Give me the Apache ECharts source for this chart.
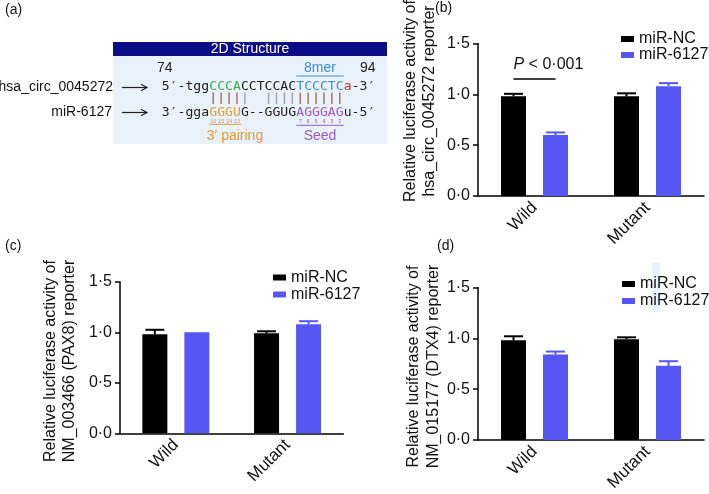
<!DOCTYPE html>
<html><head><meta charset="utf-8">
<script src="https://cdn.jsdelivr.net/npm/echarts@6/dist/echarts.min.js"></script>
<style>html,body{margin:0;padding:0;background:#fff}#c{width:709px;height:494px}</style>
</head><body><div id="c"></div>
<script>
// ---------- data ----------
const categories = ['Wild', 'Mutant'];
const seriesNames = ['miR-NC', 'miR-6127'];
const yTickLabels = ['0·0', '0·5', '1·0', '1·5'];
// panel (b) hsa_circ_0045272
const bNC = [0.98, 0.98];
const bNCerr = [0.025, 0.03];
const b6127 = [0.60, 1.08];
const b6127err = [0.025, 0.03];
// panel (c) NM_003466 (PAX8)
const cNC = [0.98, 0.99];
const cNCerr = [0.045, 0.02];
const c6127 = [1.00, 1.08];
const c6127err = [0, 0.03];
// panel (d) NM_015177 (DTX4)
const dNC = [0.98, 0.99];
const dNCerr = [0.04, 0.02];
const d6127 = [0.84, 0.73];
const d6127err = [0.03, 0.045];
// panel (a) sequences
const row1 = [['5′-tgg', '#222'], ['CCCA', '#3fae4a'], ['CCTCCAC', '#222'], ['TCCCTC', '#3b8fd6'], ['a', '#e02828'], ['-3′', '#222']];
const row2 = [['3′-gga', '#222'], ['GGGU', '#e39a36'], ['G--GGUG', '#222'], ['AGGGAG', '#9a5cc6'], ['u-5′', '#222']];
const pairBrown = [4, 5, 6, 7, 15, 16, 17, 18, 19, 20];
const pairGray = [8, 11, 12, 13, 14];
const orangeNums = ['16', '15', '14', '13'];
const purpleNums = ['7', '6', '5', '4', '3', '2'];

// ---------- styling ----------
const FONT = "'Liberation Sans', Arial, Helvetica, sans-serif";
const BLACK = '#000000';
const BLUE = '#5656f2';
const BARW = 25, OFF = 21;

const chart = echarts.init(document.getElementById('c'), null, {renderer: 'canvas'});

const grids = [
  {left: 478, top: 43.5, width: 226, height: 152.5},
  {left: 120, top: 281.8, width: 223.4, height: 151.5},
  {left: 478, top: 287.5, width: 226, height: 152.5}
];

function xAx(i) {
  return {
    type: 'category', gridIndex: i, data: categories,
    axisLine: {lineStyle: {color: '#000', width: 1.5}},
    axisTick: {alignWithLabel: true, length: 5, lineStyle: {color: '#000', width: 1.5}},
    axisLabel: {rotate: 45, margin: 9, fontSize: 17, color: '#111', fontFamily: FONT},
    splitLine: {show: false}
  };
}
function yAx(i) {
  return {
    type: 'value', gridIndex: i, min: 0, max: 1.5, interval: 0.5,
    axisLine: {show: true, lineStyle: {color: '#000', width: 1.5}},
    axisTick: {show: true, length: 5, lineStyle: {color: '#000', width: 1.5}},
    axisLabel: {margin: 8, fontSize: 16, color: '#111', fontFamily: FONT,
      formatter: v => yTickLabels[Math.round(v / 0.5)]},
    splitLine: {show: false}
  };
}
function barS(i, name, vals, color) {
  return {type: 'bar', name: name, xAxisIndex: i, yAxisIndex: i, data: vals,
    barWidth: BARW, barGap: '68%', itemStyle: {color: color}, silent: true};
}
function errS(i, vals, errs, offset, color) {
  return {
    type: 'custom', xAxisIndex: i, yAxisIndex: i, z: 5, silent: true,
    data: vals.map((v, k) => [k, v, errs[k]]),
    encode: {x: 0, y: 1},
    renderItem: (params, api) => {
      const e = api.value(2);
      if (!e) return null;
      const base = api.coord([api.value(0), api.value(1)]);
      const top = api.coord([api.value(0), api.value(1) + e]);
      const x = base[0] + offset;
      return {type: 'group', children: [
        {type: 'line', shape: {x1: x, y1: base[1], x2: x, y2: top[1]}, style: {stroke: color, lineWidth: 2}},
        {type: 'line', shape: {x1: x - 9.5, y1: top[1], x2: x + 9.5, y2: top[1]}, style: {stroke: color, lineWidth: 2}}
      ]};
    }
  };
}
function legendAt(left, top, gap) {
  return {data: seriesNames, left: left, top: top, orient: 'vertical', icon: 'rect',
    itemWidth: 13, itemHeight: 6, itemGap: gap, selectedMode: false,
    textStyle: {fontSize: 16, color: '#111', fontFamily: FONT, lineHeight: 16, padding: 0}};
}

// ---------- panel (a) graphics ----------
const g = [];
const x0 = 161.8, cw = 7.91;
function txt(x, y, s, size, color, align, extra) {
  return Object.assign({type: 'text', x: x, y: y, silent: true,
    style: {text: s, fontSize: size, fill: color, fontFamily: FONT, textAlign: align || 'left', textVerticalAlign: 'middle'}}, extra || {});
}
g.push({type: 'rect', shape: {x: 113, y: 56, width: 274, height: 88}, style: {fill: '#e9f1fa'}, silent: true, z: 0});
g.push({type: 'rect', shape: {x: 113, y: 42, width: 274, height: 14}, style: {fill: '#0c0c86'}, silent: true, z: 1});
g.push(txt(250, 49.5, '2D Structure', 14, '#ffffff', 'center', {z: 2}));
function seqRow(segs, y) {
  let idx = 0;
  segs.forEach(([s, col]) => {
    g.push({type: 'text', x: x0 + idx * cw, y: y, silent: true, z: 2,
      style: {text: s, fontSize: 13.1, fill: col, fontFamily: "'DejaVu Sans Mono', monospace", textAlign: 'left', textVerticalAlign: 'middle'}});
    idx += s.length;
  });
}
seqRow(row1, 87);
seqRow(row2, 112.5);
const posX = p => x0 + (p + 2.5) * cw;
pairBrown.forEach(p => g.push({type: 'line', shape: {x1: posX(p), y1: 92.5, x2: posX(p), y2: 104}, style: {stroke: '#a8785a', lineWidth: 1.5}, silent: true, z: 2}));
pairGray.forEach(p => g.push({type: 'line', shape: {x1: posX(p), y1: 92.5, x2: posX(p), y2: 104}, style: {stroke: '#a3a6b4', lineWidth: 1.5}, silent: true, z: 2}));
orangeNums.forEach((n, k) => g.push(txt(posX(4 + k), 121.3, n, 5.5, '#e39a36', 'center', {z: 2})));
purpleNums.forEach((n, k) => g.push(txt(posX(15 + k), 121.8, n, 5.5, '#9a5cc6', 'center', {z: 2})));
g.push({type: 'line', shape: {x1: posX(4) - 4, y1: 124.3, x2: posX(7) + 4, y2: 124.3}, style: {stroke: '#e39a36', lineWidth: 1}, silent: true, z: 2});
g.push({type: 'line', shape: {x1: posX(15) - 4, y1: 125.3, x2: posX(20) + 4, y2: 125.3}, style: {stroke: '#9a5cc6', lineWidth: 1}, silent: true, z: 2});
g.push({type: 'line', shape: {x1: posX(15) - 4, y1: 76, x2: posX(20) + 4, y2: 76}, style: {stroke: '#3b8fd6', lineWidth: 1}, silent: true, z: 2});
g.push(txt((posX(15) + posX(20)) / 2, 68.5, '8mer', 14, '#3b8fd6', 'center', {z: 2}));
g.push(txt(157, 68.5, '74', 14, '#222', 'left', {z: 2}));
g.push(txt(360, 68, '94', 14, '#222', 'left', {z: 2}));
g.push(txt(235, 136, '3′ pairing', 14, '#e39a36', 'center', {z: 2}));
g.push(txt((posX(15) + posX(20)) / 2, 136, 'Seed', 14, '#9a5cc6', 'center', {z: 2}));
g.push(txt(113, 87, 'hsa_circ_0045272', 14, '#111', 'right', {z: 2}));
g.push(txt(112, 112.5, 'miR-6127', 14, '#111', 'right', {z: 2}));
[87.5, 112.5].forEach(y => {
  g.push({type: 'line', shape: {x1: 122, y1: y, x2: 147, y2: y}, style: {stroke: '#222', lineWidth: 1.2}, silent: true, z: 2});
  g.push({type: 'polyline', shape: {points: [[141, y - 3.2], [147, y], [141, y + 3.2]]}, style: {stroke: '#222', lineWidth: 1.2, fill: null}, silent: true, z: 2});
});
// panel labels
g.push(txt(5, 10, '(a)', 14, '#111'));
g.push(txt(435, 8, '(b)', 14, '#111'));
g.push(txt(5, 246, '(c)', 14, '#111'));
g.push(txt(437, 246.5, '(d)', 14, '#111'));
// y-axis titles
function yTitle(x, y, s) {
  g.push({type: 'text', x: x, y: y, rotation: Math.PI / 2, silent: true,
    style: {text: s, fontSize: 16, lineHeight: 19.5, fill: '#111', fontFamily: FONT, textAlign: 'center', textVerticalAlign: 'middle'}});
}
yTitle(420, 101, 'Relative luciferase activity of\nhsa_circ_0045272 reporter');
yTitle(60, 361, 'Relative luciferase activity of\nNM_003466 (PAX8) reporter');
yTitle(423.5, 366.5, 'Relative luciferase activity of\nNM_015177 (DTX4) reporter');
// faint scan artefact
g.push({type: 'rect', shape: {x: 652, y: 262, width: 8, height: 50}, style: {fill: '#edf2f9'}, silent: true, z: -10});

chart.setOption({
  animation: false,
  textStyle: {fontFamily: FONT},
  grid: grids,
  xAxis: [xAx(0), xAx(1), xAx(2)],
  yAxis: [yAx(0), yAx(1), yAx(2)],
  legend: [legendAt(616, 26, 0), legendAt(268, 264.5, 1), legendAt(617, 271, 1)],
  series: [
    barS(0, seriesNames[0], bNC, BLACK), barS(0, seriesNames[1], b6127, BLUE),
    errS(0, bNC, bNCerr, -OFF, BLACK), errS(0, b6127, b6127err, OFF, BLUE),
    barS(1, seriesNames[0], cNC, BLACK), barS(1, seriesNames[1], c6127, BLUE),
    errS(1, cNC, cNCerr, -OFF, BLACK), errS(1, c6127, c6127err, OFF, BLUE),
    barS(2, seriesNames[0], dNC, BLACK), barS(2, seriesNames[1], d6127, BLUE),
    errS(2, dNC, dNCerr, -OFF, BLACK), errS(2, d6127, d6127err, OFF, BLUE)
  ],
  graphic: g
});

// significance annotation in panel (b), positioned through the chart's scales
const pL = chart.convertToPixel({gridIndex: 0}, [0, 1.15]);
const pT = chart.convertToPixel({gridIndex: 0}, [0, 1.29]);
chart.setOption({graphic: [
  {id: 'sigline', type: 'line', shape: {x1: pL[0] - OFF, y1: pL[1], x2: pL[0] + OFF, y2: pL[1]}, style: {stroke: '#000', lineWidth: 1.5}, silent: true},
  {id: 'sigtext', type: 'text', x: pL[0] - OFF, y: pT[1], silent: true,
    style: {text: '{i|P} < 0·001', fontSize: 16, fill: '#111', fontFamily: FONT, textAlign: 'left', textVerticalAlign: 'middle',
      rich: {i: {fontStyle: 'italic', fontSize: 16, fontFamily: FONT, fill: '#111'}}}}
]});
</script></body></html>
